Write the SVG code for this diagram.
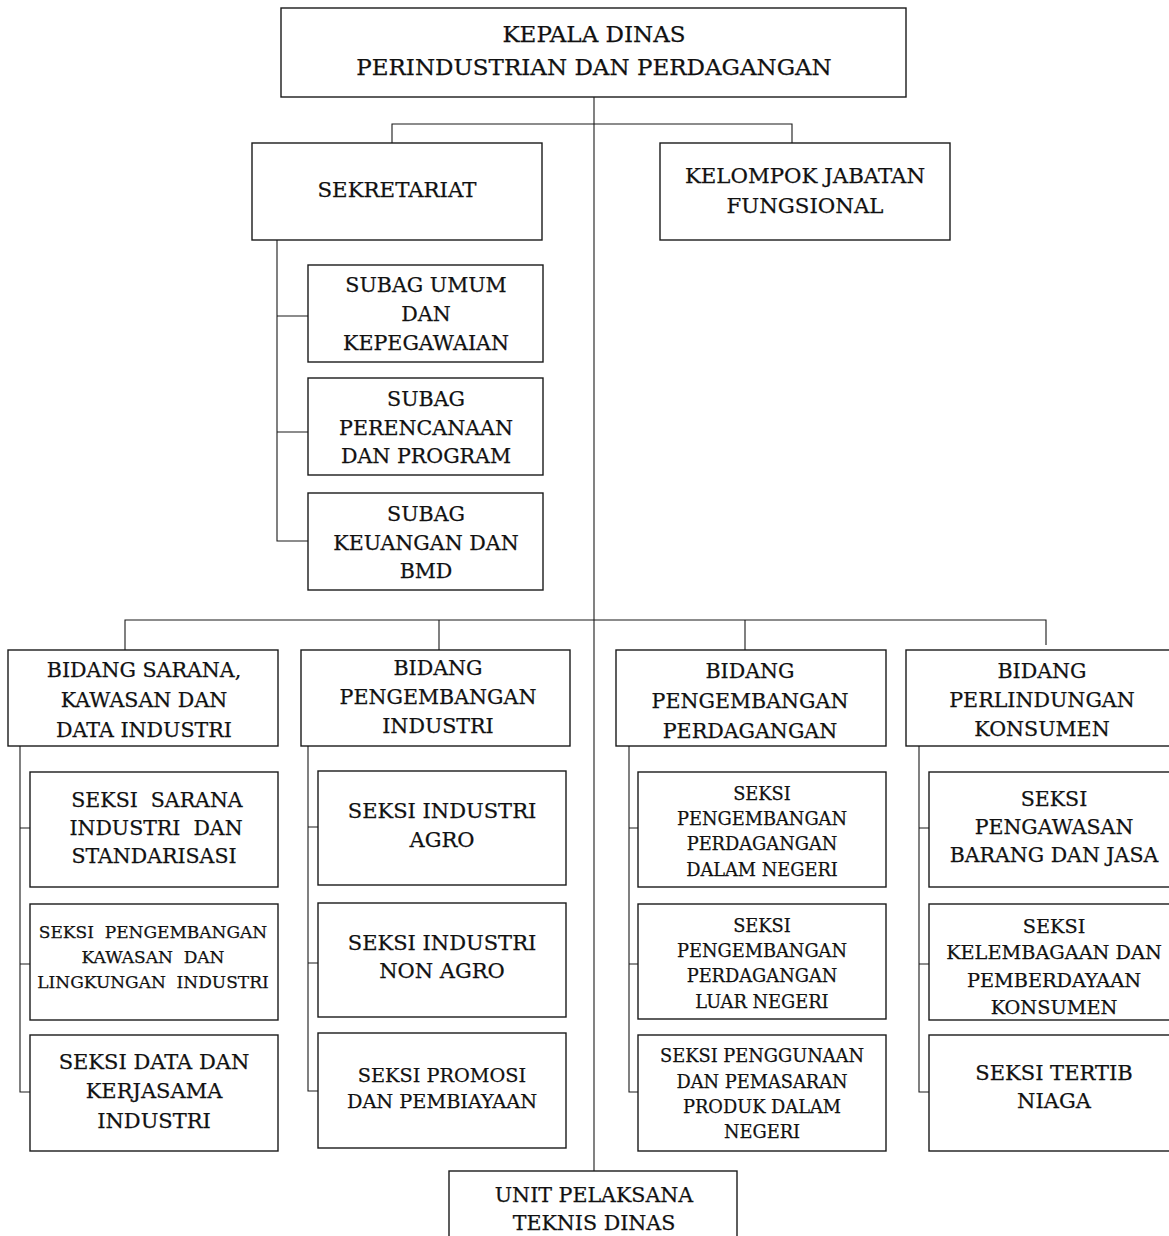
<svg xmlns="http://www.w3.org/2000/svg" width="1169" height="1236" viewBox="0 0 1169 1236">
<style>
.box{fill:#fff;stroke:#1a1a1a;stroke-width:1.4}
.ln{fill:none;stroke:#1a1a1a;stroke-width:1.1}
text{font-family:"DejaVu Serif","Liberation Serif",serif;fill:#111;stroke:#111;stroke-width:0.25;text-anchor:middle}
.top{font-size:23px}
.h1{font-size:21.3px}
.h2{font-size:20.6px}
.s21{font-size:21px}
.s20{font-size:20.5px}
.s19{font-size:19.3px}
.s18{font-size:17.8px}
.s17{font-size:17px}
</style>
<rect width="1169" height="1236" fill="#fff"/>
<g id="connectors">
<path class="ln" d="M594 97 V1171"/>
<path class="ln" d="M392 143 V124 H792 V143"/>
<path class="ln" d="M277 240 V541 H308 M277 316 H308 M277 432 H308"/>
<path class="ln" d="M125 650 V620 H1046 V645 M439 620 V650 M745 620 V650"/>
<path class="ln" d="M20 746 V1092 H30 M20 828 H30 M20 964 H30"/>
<path class="ln" d="M308 746 V1091 H318 M308 827 H318 M308 963 H318"/>
<path class="ln" d="M629 746 V1092 H638 M629 828 H638 M629 964 H638"/>
<path class="ln" d="M919 746 V1092 H929 M919 828 H929 M919 964 H929"/>
</g>
<g id="kepala">
<rect class="box" x="281" y="8" width="625" height="89"/>
<text class="top" x="594" y="42">KEPALA DINAS</text>
<text class="top" x="594" y="75">PERINDUSTRIAN DAN PERDAGANGAN</text>
</g>
<g id="sekretariat">
<rect class="box" x="252" y="143" width="290" height="97"/>
<text class="h1" x="397" y="197">SEKRETARIAT</text>
</g>
<g id="kelompok">
<rect class="box" x="660" y="143" width="290" height="97"/>
<text class="h1" x="805" y="183">KELOMPOK JABATAN</text>
<text class="h1" x="805" y="213">FUNGSIONAL</text>
</g>
<g id="subag-umum">
<rect class="box" x="308" y="265" width="235" height="97"/>
<text class="h2" x="426" y="292">SUBAG UMUM</text>
<text class="h2" x="426" y="321">DAN</text>
<text class="h2" x="426" y="350">KEPEGAWAIAN</text>
</g>
<g id="subag-perencanaan">
<rect class="box" x="308" y="378" width="235" height="97"/>
<text class="h2" x="426" y="406">SUBAG</text>
<text class="h2" x="426" y="435">PERENCANAAN</text>
<text class="h2" x="426" y="463">DAN PROGRAM</text>
</g>
<g id="subag-keuangan">
<rect class="box" x="308" y="493" width="235" height="97"/>
<text class="h2" x="426" y="521">SUBAG</text>
<text class="h2" x="426" y="550">KEUANGAN DAN</text>
<text class="h2" x="426" y="578">BMD</text>
</g>
<g id="bidang-sarana">
<rect class="box" x="8" y="650" width="270" height="96"/>
<text class="h2" x="144" y="677">BIDANG SARANA,</text>
<text class="h2" x="144" y="707">KAWASAN DAN</text>
<text class="h2" x="144" y="737">DATA INDUSTRI</text>
</g>
<g id="bidang-pengembangan-industri">
<rect class="box" x="301" y="650" width="269" height="96"/>
<text class="h2" x="438" y="675">BIDANG</text>
<text class="h2" x="438" y="704">PENGEMBANGAN</text>
<text class="h2" x="438" y="733">INDUSTRI</text>
</g>
<g id="bidang-pengembangan-perdagangan">
<rect class="box" x="616" y="650" width="270" height="96"/>
<text class="h2" x="750" y="678">BIDANG</text>
<text class="h2" x="750" y="708">PENGEMBANGAN</text>
<text class="h2" x="750" y="738">PERDAGANGAN</text>
</g>
<g id="bidang-perlindungan">
<rect class="box" x="906" y="650" width="270" height="96"/>
<text class="h2" x="1042" y="678">BIDANG</text>
<text class="h2" x="1042" y="707">PERLINDUNGAN</text>
<text class="h2" x="1042" y="736">KONSUMEN</text>
</g>
<g id="seksi-sarana">
<rect class="box" x="30" y="772" width="248" height="115"/>
<text class="s20" x="157" y="807" xml:space="preserve">SEKSI  SARANA</text>
<text class="s20" x="156" y="835" xml:space="preserve">INDUSTRI  DAN</text>
<text class="s20" x="154" y="863">STANDARISASI</text>
</g>
<g id="seksi-kawasan">
<rect class="box" x="30" y="904" width="248" height="116"/>
<text class="s17" x="153" y="938" xml:space="preserve">SEKSI  PENGEMBANGAN</text>
<text class="s17" x="153" y="963" xml:space="preserve">KAWASAN  DAN</text>
<text class="s17" x="153" y="988" xml:space="preserve">LINGKUNGAN  INDUSTRI</text>
</g>
<g id="seksi-data">
<rect class="box" x="30" y="1035" width="248" height="116"/>
<text class="s21" x="154" y="1069">SEKSI DATA DAN</text>
<text class="s21" x="154" y="1098">KERJASAMA</text>
<text class="s21" x="154" y="1128">INDUSTRI</text>
</g>
<g id="seksi-agro">
<rect class="box" x="318" y="771" width="248" height="114"/>
<text class="s21" x="442" y="818">SEKSI INDUSTRI</text>
<text class="s21" x="442" y="847">AGRO</text>
</g>
<g id="seksi-non-agro">
<rect class="box" x="318" y="903" width="248" height="114"/>
<text class="s21" x="442" y="950">SEKSI INDUSTRI</text>
<text class="s21" x="442" y="978">NON AGRO</text>
</g>
<g id="seksi-promosi">
<rect class="box" x="318" y="1033" width="248" height="115"/>
<text class="s19" x="442" y="1082">SEKSI PROMOSI</text>
<text class="s19" x="442" y="1108">DAN PEMBIAYAAN</text>
</g>
<g id="seksi-dalam-negeri">
<rect class="box" x="638" y="772" width="248" height="115"/>
<text class="s18" x="762" y="800">SEKSI</text>
<text class="s18" x="762" y="825">PENGEMBANGAN</text>
<text class="s18" x="762" y="850">PERDAGANGAN</text>
<text class="s18" x="762" y="876">DALAM NEGERI</text>
</g>
<g id="seksi-luar-negeri">
<rect class="box" x="638" y="904" width="248" height="115"/>
<text class="s18" x="762" y="932">SEKSI</text>
<text class="s18" x="762" y="957">PENGEMBANGAN</text>
<text class="s18" x="762" y="982">PERDAGANGAN</text>
<text class="s18" x="762" y="1008">LUAR NEGERI</text>
</g>
<g id="seksi-penggunaan">
<rect class="box" x="638" y="1035" width="248" height="116"/>
<text class="s18" x="762" y="1062">SEKSI PENGGUNAAN</text>
<text class="s18" x="762" y="1088">DAN PEMASARAN</text>
<text class="s18" x="762" y="1113">PRODUK DALAM</text>
<text class="s18" x="762" y="1138">NEGERI</text>
</g>
<g id="seksi-pengawasan">
<rect class="box" x="929" y="772" width="248" height="115"/>
<text class="s20" x="1054" y="806">SEKSI</text>
<text class="s20" x="1054" y="834">PENGAWASAN</text>
<text class="s20" x="1054" y="862">BARANG DAN JASA</text>
</g>
<g id="seksi-kelembagaan">
<rect class="box" x="929" y="904" width="248" height="116"/>
<text class="s19" x="1054" y="933">SEKSI</text>
<text class="s19" x="1054" y="959">KELEMBAGAAN DAN</text>
<text class="s19" x="1054" y="987">PEMBERDAYAAN</text>
<text class="s19" x="1054" y="1014">KONSUMEN</text>
</g>
<g id="seksi-tertib">
<rect class="box" x="929" y="1035" width="248" height="116"/>
<text class="s21" x="1054" y="1080">SEKSI TERTIB</text>
<text class="s21" x="1054" y="1108">NIAGA</text>
</g>
<g id="upt">
<rect class="box" x="449" y="1171" width="288" height="80"/>
<text class="h2" x="594" y="1202">UNIT PELAKSANA</text>
<text class="h2" x="594" y="1230">TEKNIS DINAS</text>
</g>
</svg>
